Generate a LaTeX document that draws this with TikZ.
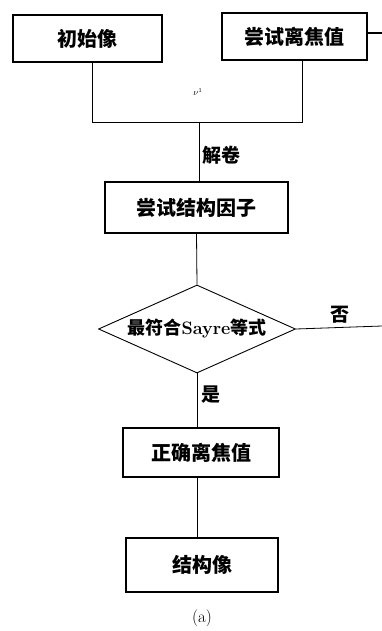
\documentclass[tikz,border=0pt]{standalone}
\usepackage{fontspec}
\newfontfamily\cjk{Noto Sans CJK SC}
\usetikzlibrary{shapes.geometric}
\begin{document}
\begin{tikzpicture}[x=1pt,y=-1pt,
  box/.style={draw,line width=1.1pt,rectangle,inner sep=0pt,font=\cjk\bfseries\fontsize{20}{20}\selectfont},
  conn/.style={line width=0.8pt},
  lbl/.style={font=\cjk\bfseries\fontsize{19}{19}\selectfont,inner sep=0pt}]
\useasboundingbox (0,0) rectangle (382,631);
\node[box,minimum width=149pt,minimum height=47pt] (a) at (87.5,38.5) {初始像};
\node[box,minimum width=145pt,minimum height=47pt] (b) at (294.5,36.5) {尝试离焦值};
\node[box,minimum width=183pt,minimum height=51pt] (c) at (196.5,207.5) {尝试结构因子};
\node[draw,diamond,line width=0.9pt,minimum width=197pt,minimum height=88pt,inner sep=0pt,aspect=2.24] (d) at (197,329) {};
\node[inner sep=0pt,font=\cjk\bfseries\fontsize{18}{18}\selectfont] (dt) at (d.center) {最符合{\rmfamily\bfseries\fontsize{18}{18}\selectfont Sayre}等式};
\node[box,minimum width=156pt,minimum height=49pt] (e) at (201,452.5) {正确离焦值};
\node[box,minimum width=152pt,minimum height=54pt] (f) at (202,565) {结构像};
\coordinate (jl) at (92,122);
\coordinate (jr) at (302,122);
\coordinate (jm) at (199,122);
\coordinate (rb) at (382,33);
\coordinate (rd) at (382,326);
\draw[conn] (a.south -| jl) -- (jl) -- (jr) -- (b.south -| jr);
\draw[conn] (jm) -- (c.north -| jm);
\draw[conn] (c.south) -- (d.north);
\draw[conn] (d.south) -- (e.north -| d.south);
\draw[conn] (e.south -| d.south) -- (f.north -| d.south);
\draw[line width=1.4pt] (b.east |- rb) -- (rb);
\draw[conn] (d.east) -- (rd);
\node[lbl,anchor=west] (l1) at (202,155) {解卷};
\node[lbl] (l2) at (340,315) {否};
\node[lbl,anchor=west] (l3) at (201,395) {是};
\node[inner sep=0pt,font=\fontsize{9}{9}\selectfont] (nu) at (198,92) {$\nu^{1}$};
\node[inner sep=0pt,font=\fontsize{17}{17}\selectfont] (cap) at (202,618) {(a)};
\end{tikzpicture}
\end{document}
